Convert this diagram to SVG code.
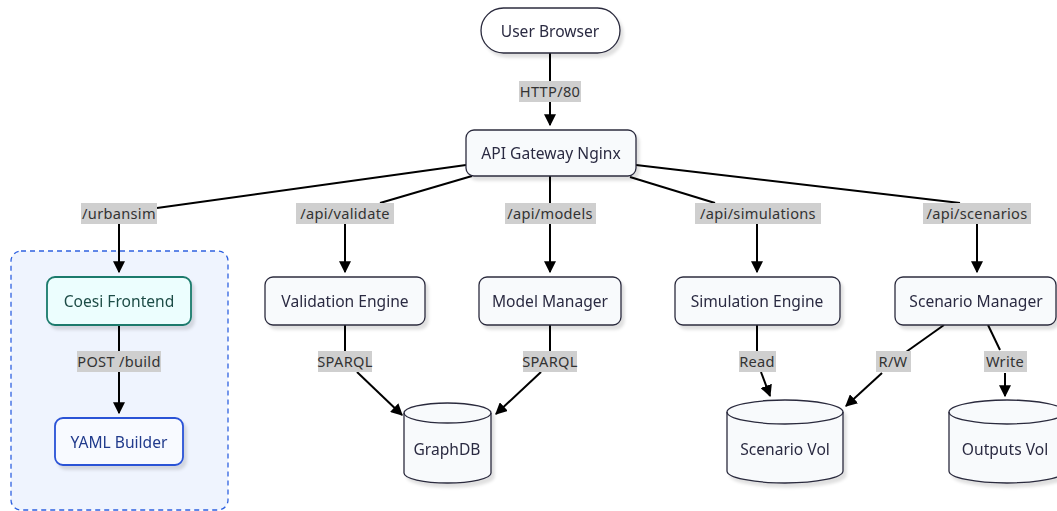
<svg xmlns="http://www.w3.org/2000/svg" width="1057" height="511" viewBox="0 0 1057 511">
<style>
text{font-family:"Noto Sans","Liberation Sans",sans-serif;font-size:15.6px;fill:#2b2b42;text-anchor:middle;dominant-baseline:central}
text.lt{font-size:14.6px;letter-spacing:0.3px;fill:#333}
.node{fill:#f8fafc;stroke:#2b2b3e;stroke-width:1.3}
.edge{fill:none;stroke:#000;stroke-width:2}
.lbg{fill:#cfcfcf}
</style>
<defs>
<marker id="arr" viewBox="0 0 10 10" refX="9" refY="5" markerWidth="12" markerHeight="12" markerUnits="userSpaceOnUse" orient="auto">
<path d="M0,0 L10,5 L0,10 z" fill="#000"/>
</marker>
<filter id="sh" x="-10%" y="-10%" width="130%" height="140%">
<feDropShadow dx="3" dy="4" stdDeviation="1.5" flood-color="#000" flood-opacity="0.12"/>
</filter>
</defs>
<g id="cluster">
<rect x="11" y="251" width="217" height="259" rx="10" fill="#eff4fe" stroke="#2f62e0" stroke-width="1.3" stroke-dasharray="5 4"/>
</g>
<g id="connectors">
<path class="edge" d="M550,53 V82"/>
<path class="edge" d="M550,101 V125" marker-end="url(#arr)"/>
<path class="edge" d="M466,165 L157,208"/>
<path class="edge" d="M119,224 V272" marker-end="url(#arr)"/>
<path class="edge" d="M472,176 L380,203"/>
<path class="edge" d="M345,224 V272" marker-end="url(#arr)"/>
<path class="edge" d="M550,176 V203"/>
<path class="edge" d="M550,224 V272" marker-end="url(#arr)"/>
<path class="edge" d="M630,177 L715,203"/>
<path class="edge" d="M757,224 V272" marker-end="url(#arr)"/>
<path class="edge" d="M636,165 L960,203"/>
<path class="edge" d="M977,224 V272" marker-end="url(#arr)"/>
<path class="edge" d="M119,325 V351"/>
<path class="edge" d="M119,372 V413" marker-end="url(#arr)"/>
<path class="edge" d="M345,325 V351"/>
<path class="edge" d="M357,372 L402,415" marker-end="url(#arr)"/>
<path class="edge" d="M550,325 V351"/>
<path class="edge" d="M541,372 L496,414" marker-end="url(#arr)"/>
<path class="edge" d="M757,325 V351"/>
<path class="edge" d="M761,372 L770,396" marker-end="url(#arr)"/>
<path class="edge" d="M944,325 L906,352"/>
<path class="edge" d="M882,373 L846,406" marker-end="url(#arr)"/>
<path class="edge" d="M988,325 L1000,350"/>
<path class="edge" d="M1005,373 V396" marker-end="url(#arr)"/>
<g id="edge-labels">
<rect class="lbg" x="519" y="81" width="62" height="21"/><text class="lt" x="550" y="91">HTTP/80</text>
<rect class="lbg" x="81" y="203" width="76" height="21"/><text class="lt" x="119" y="213">/urbansim</text>
<rect class="lbg" x="296" y="203" width="98" height="21"/><text class="lt" x="345" y="213">/api/validate</text>
<rect class="lbg" x="505" y="203" width="91" height="21"/><text class="lt" x="550" y="213">/api/models</text>
<rect class="lbg" x="695" y="203" width="126" height="21"/><text class="lt" x="758" y="213">/api/simulations</text>
<rect class="lbg" x="923" y="203" width="108" height="21"/><text class="lt" x="977" y="213">/api/scenarios</text>
<rect class="lbg" x="77" y="351" width="84" height="21"/><text class="lt" x="119" y="361">POST /build</text>
<rect class="lbg" x="318" y="351" width="54" height="21"/><text class="lt" x="345" y="361">SPARQL</text>
<rect class="lbg" x="523" y="351" width="54" height="21"/><text class="lt" x="550" y="361">SPARQL</text>
<rect class="lbg" x="739" y="351" width="37" height="21"/><text class="lt" x="757" y="361">Read</text>
<rect class="lbg" x="876" y="351" width="35" height="21"/><text class="lt" x="893" y="361">R/W</text>
<rect class="lbg" x="984" y="351" width="43" height="21"/><text class="lt" x="1005" y="361">Write</text>
</g>
</g>
<g id="user-browser" filter="url(#sh)">
<rect class="node" x="481" y="8" width="139" height="45" rx="22.5" style="fill:#fff"/>
<text x="550" y="30.5">User Browser</text>
</g>
<g id="api-gateway" filter="url(#sh)">
<rect class="node" x="466" y="130" width="170" height="46" rx="8"/>
<text x="551" y="153">API Gateway Nginx</text>
</g>
<g id="coesi-frontend" filter="url(#sh)">
<rect x="47" y="277" width="144" height="48" rx="8" fill="#ecfefe" stroke="#1b7a6c" stroke-width="1.8"/>
<text x="119" y="301" style="fill:#1e4d47">Coesi Frontend</text>
</g>
<g id="yaml-builder" filter="url(#sh)">
<rect x="55" y="418" width="128" height="47" rx="8" fill="#f8faff" stroke="#2a52d6" stroke-width="1.8"/>
<text x="119" y="441.5" style="fill:#203a8c">YAML Builder</text>
</g>
<g id="validation-engine" filter="url(#sh)">
<rect class="node" x="265" y="277" width="160" height="48" rx="8"/>
<text x="345" y="301">Validation Engine</text>
</g>
<g id="model-manager" filter="url(#sh)">
<rect class="node" x="479" y="277" width="142" height="48" rx="8"/>
<text x="550" y="301">Model Manager</text>
</g>
<g id="simulation-engine" filter="url(#sh)">
<rect class="node" x="675" y="277" width="165" height="48" rx="8"/>
<text x="757" y="301">Simulation Engine</text>
</g>
<g id="scenario-manager" filter="url(#sh)">
<rect class="node" x="895" y="277" width="161" height="48" rx="8"/>
<text x="976" y="301">Scenario Manager</text>
</g>
<g id="graphdb" filter="url(#sh)">
<path class="node" d="M404,413 A43.5,10 0 0 1 491,413 V473 A43.5,10 0 0 1 404,473 Z"/>
<path class="node" d="M404,413 A43.5,10 0 0 0 491,413" style="fill:none"/>
<text x="447" y="449">GraphDB</text>
</g>
<g id="scenario-vol" filter="url(#sh)">
<path class="node" d="M727,412 A58,12 0 0 1 843,412 V471 A58,12 0 0 1 727,471 Z"/>
<path class="node" d="M727,412 A58,12 0 0 0 843,412" style="fill:none"/>
<text x="785" y="449">Scenario Vol</text>
</g>
<g id="outputs-vol" filter="url(#sh)">
<path class="node" d="M949,412 A58,12 0 0 1 1065,412 V471 A58,12 0 0 1 949,471 Z"/>
<path class="node" d="M949,412 A58,12 0 0 0 1065,412" style="fill:none"/>
<text x="1005" y="449">Outputs Vol</text>
</g>
</svg>
